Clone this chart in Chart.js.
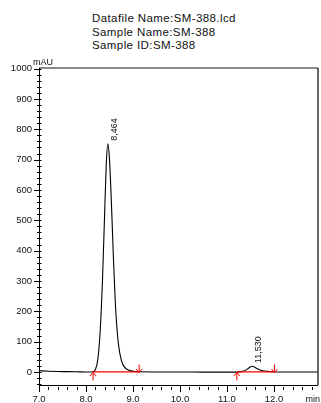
<!DOCTYPE html>
<html>
<head>
<meta charset="utf-8">
<script src="https://cdn.jsdelivr.net/npm/chart.js@4"></script>
<style>
  html, body { margin: 0; padding: 0; background: #fff; }
  #wrap { position: relative; width: 321px; height: 403px; }
  #title {
    position: absolute; left: 92px; top: 12px;
    font: 11.5px "Liberation Sans", Arial, sans-serif; line-height: 13.6px;
    letter-spacing: 0.4px; color: #111;
  }
  canvas { position: absolute; left: 0; top: 0; }
</style>
</head>
<body>
<div id="wrap">
  <div id="title">Datafile Name:SM-388.lcd<br>Sample Name:SM-388<br>Sample ID:SM-388</div>
  <canvas id="chromChart" width="321" height="403"></canvas>
</div>
<script>
const times = [7.00, 7.20, 7.40, 7.60, 7.80, 8.00, 8.10, 8.15, 8.20, 8.25, 8.30, 8.35, 8.40, 8.43, 8.464,
  8.50, 8.54, 8.58, 8.62, 8.66, 8.70, 8.75, 8.80, 8.87, 8.95, 9.05, 9.15, 9.50, 10.00, 10.50, 11.00,
  11.20, 11.30, 11.40, 11.47, 11.53, 11.60, 11.68, 11.76, 11.85, 11.95, 12.05, 12.50, 12.93];
const signal = [4, 2.5, 1.5, 1, 0.5, 0, 0, 0.5, 8, 40, 130, 300, 540, 680, 752,
  700, 560, 390, 240, 140, 80, 40, 20, 9, 4, 1.5, 0.5, 0, 0, -0.5, -0.5,
  -0.5, 1, 6, 14, 19, 15, 8, 4, 2, 1, 0, 0, 0];

// Picos integrados
const peakTimes = [8.464, 11.530];
const peakHeights = [752, 19];
const peakLabels = ['8,464', '11,530'];
const baseStarts = [8.15, 11.21];
const baseEnds = [9.13, 12.01];

// Ejes
const xMin = 7.0, xMax = 12.936;
const yMin = -43, yMax = 1002;

const FONT = '"Liberation Sans", Arial, sans-serif';

// Marco, marcas de ejes, flechas y etiquetas de picos
const chromPlugin = {
  id: 'chrom',
  afterDatasetsDraw(chart) {
    const ctx = chart.ctx;
    const a = chart.chartArea;
    const xs = chart.scales.x, ys = chart.scales.y;
    ctx.save();

    // marco
    ctx.lineWidth = 2;
    ctx.strokeStyle = '#8a8a8a';
    ctx.beginPath(); ctx.moveTo(a.left, a.top); ctx.lineTo(a.right, a.top); ctx.stroke();
    ctx.lineWidth = 1.5;
    ctx.strokeStyle = '#333';
    ctx.beginPath(); ctx.moveTo(a.right, a.top); ctx.lineTo(a.right, a.bottom); ctx.stroke();
    ctx.lineWidth = 1;
    ctx.strokeStyle = '#000';
    ctx.beginPath();
    ctx.moveTo(a.left + 0.5, a.top); ctx.lineTo(a.left + 0.5, a.bottom + 0.5);
    ctx.lineTo(a.right, a.bottom + 0.5);
    ctx.stroke();

    // marcas del eje Y (cada 20, mayores cada 100)
    ctx.beginPath();
    for (let v = -40; v <= 1000; v += 20) {
      const py = Math.round(ys.getPixelForValue(v)) + 0.5;
      if (v % 100 === 0) { ctx.moveTo(a.left - 5, py); ctx.lineTo(a.left + 2.5, py); }
      else { ctx.moveTo(a.left - 2, py); ctx.lineTo(a.left + 2.5, py); }
    }
    // marcas del eje X (cada 0.2, mayores cada 1.0)
    for (let i = 0; i <= 30; i++) {
      const t = xMin + i * 0.2;
      if (t > xMax + 0.05) break;
      const px = Math.min(Math.round(xs.getPixelForValue(t)) + 0.5, a.right);
      if (i % 5 === 0) { ctx.moveTo(px, a.bottom); ctx.lineTo(px, a.bottom + 7); }
      else { ctx.moveTo(px, a.bottom + 2); ctx.lineTo(px, a.bottom + 5); }
    }
    ctx.stroke();

    // flechas rojas de la línea base
    const y0 = ys.getPixelForValue(0) + 0.5;
    ctx.strokeStyle = '#ff0000';
    ctx.lineWidth = 1;
    ctx.beginPath();
    baseStarts.forEach(t => {
      const px = xs.getPixelForValue(t);
      ctx.moveTo(px, y0 + 8); ctx.lineTo(px, y0);
      ctx.moveTo(px - 3, y0 + 3.5); ctx.lineTo(px, y0); ctx.lineTo(px + 3, y0 + 3.5);
    });
    baseEnds.forEach(t => {
      const px = xs.getPixelForValue(t);
      ctx.moveTo(px, y0 - 8); ctx.lineTo(px, y0);
      ctx.moveTo(px - 3, y0 - 3.5); ctx.lineTo(px, y0); ctx.lineTo(px + 3, y0 - 3.5);
    });
    ctx.stroke();

    // etiquetas de tiempo de retención (giradas)
    ctx.fillStyle = '#111';
    ctx.font = '9px ' + FONT;
    ctx.textAlign = 'left';
    ctx.textBaseline = 'alphabetic';
    peakTimes.forEach((t, i) => {
      const px = xs.getPixelForValue(t);
      const py = ys.getPixelForValue(peakHeights[i]);
      ctx.save();
      ctx.translate(px + 9.5, py - 3);
      ctx.rotate(-Math.PI / 2);
      ctx.fillText(peakLabels[i], 0, 0);
      ctx.restore();
    });

    // unidades
    ctx.font = '9px ' + FONT;
    ctx.textBaseline = 'bottom';
    ctx.fillText('mAU', a.left - 6, a.top - 0.5);
    ctx.textAlign = 'right';
    ctx.textBaseline = 'top';
    ctx.fillText('min', 320, a.bottom + 10);
    ctx.restore();
  }
};

document.addEventListener('DOMContentLoaded', function() {
  const ctx = document.getElementById('chromChart').getContext('2d');
  const points = times.map((t, i) => ({ x: t, y: signal[i] }));

  const datasets = [{
    data: points,
    borderColor: '#000',
    borderWidth: 1.1,
    pointRadius: 0,
    cubicInterpolationMode: 'monotone',
    order: 1
  }];
  baseStarts.forEach((t, i) => {
    datasets.push({
      data: [{ x: t, y: 0 }, { x: baseEnds[i], y: 0 }],
      borderColor: '#ff0000',
      borderWidth: 1.2,
      pointRadius: 0,
      order: 0
    });
  });

  new Chart(ctx, {
    type: 'line',
    data: { datasets: datasets },
    options: {
      responsive: false,
      animation: false,
      layout: { padding: { top: 68, right: 3, left: 0, bottom: 0 } },
      plugins: { legend: { display: false }, tooltip: { enabled: false }, title: { display: false } },
      scales: {
        x: {
          type: 'linear',
          min: xMin, max: xMax,
          grid: { display: false, drawTicks: false },
          border: { display: false },
          afterFit(scale) { scale.height = 18; },
          ticks: {
            stepSize: 1, includeBounds: false, maxRotation: 0, autoSkip: false,
            padding: 9, color: '#111', font: { family: FONT, size: 9.5 },
            callback: v => Number(v).toFixed(1)
          }
        },
        y: {
          min: yMin, max: yMax,
          grid: { display: false, drawTicks: false },
          border: { display: false },
          afterFit(scale) { scale.width = 39; },
          ticks: {
            stepSize: 100, includeBounds: false, autoSkip: false,
            padding: 7, color: '#111', font: { family: FONT, size: 9.5 },
            callback: v => String(v)
          }
        }
      }
    },
    plugins: [chromPlugin]
  });
});
</script>
</body>
</html>
